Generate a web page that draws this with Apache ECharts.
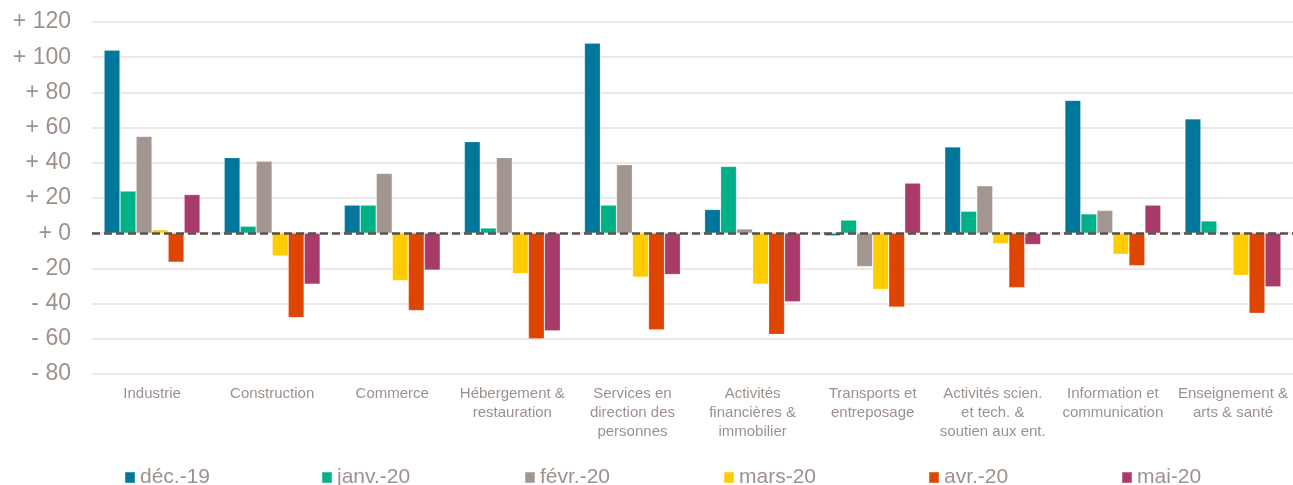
<!DOCTYPE html>
<html>
<head>
<meta charset="utf-8">
<script src="https://cdn.jsdelivr.net/npm/echarts@6/dist/echarts.min.js"></script>
<style>
html,body{margin:0;padding:0;background:#fff;}
#c{width:1293px;height:485px;}
</style>
</head>
<body>
<div id="c"></div>
<script>
const categories = ["Industrie", "Construction", "Commerce", "Hébergement &\nrestauration", "Services en\ndirection des\npersonnes", "Activités\nfinancières &\nimmobilier", "Transports et\nentreposage", "Activités scien.\net tech. &\nsoutien aux ent.", "Information et\ncommunication", "Enseignement &\narts & santé"];
const seriesNames = ["déc.-19", "janv.-20", "févr.-20", "mars-20", "avr.-20", "mai-20"];
const dec19 = [104, 43, 16, 52, 108, 13.5, -1.5, 49, 75.5, 65];
const janv20 = [24, 4, 16, 3, 16, 38, 7.5, 12.5, 11, 7];
const fevr20 = [55, 41, 34, 43, 39, 2.5, -19, 27, 13, null];
const mars20 = [2, -13, -27, -23, -25, -29, -32, -6, -12, -24];
const avr20 = [-16.5, -48, -44, -60, -55, -57.5, -42, -31, -18.5, -45.5];
const mai20 = [22, -29, -21, -55.5, -23.5, -39, 28.5, -6.5, 16, -30.5];
const yTicks = {min: -80, max: 120, interval: 20};

const colors = ["#00779A", "#00B187", "#A39590", "#FFCC00", "#DE4500", "#A93B6A"];
const allData = [dec19, janv20, fevr20, mars20, avr20, mai20];
const textColor = "#9E918C";

const series = allData.map((d, i) => {
  const s = {
    name: seriesNames[i],
    type: "bar",
    data: d,
    barGap: "0%",
    barCategoryGap: "20%",
    itemStyle: {color: colors[i], borderColor: "rgba(255,255,255,0.25)", borderWidth: 0.8},
    emphasis: {disabled: true},
    animation: false
  };
  if (i === allData.length - 1) {
    s.markLine = {
      silent: true,
      symbol: "none",
      z: 10,
      label: {show: false},
      lineStyle: {color: "#5A4F4C", type: [8, 4], width: 2.5},
      data: [{yAxis: 0}],
      animation: false
    };
  }
  return s;
});

const legendLefts = [124, 321, 524, 723, 928, 1121];
const legends = seriesNames.map((n, i) => ({
  data: [n],
  left: legendLefts[i],
  top: 467,
  padding: 0,
  icon: "rect",
  itemWidth: 10,
  itemHeight: 11,
  selectedMode: false,
  textStyle: {color: textColor, fontSize: 21, fontFamily: "Liberation Sans", padding: [0, 0, 0, 0]}
}));

const chart = echarts.init(document.getElementById("c"), null, {renderer: "canvas"});
chart.setOption({
  animation: false,
  color: colors,
  grid: {left: 92, top: 22, width: 1202, height: 352, containLabel: false},
  legend: legends,
  xAxis: {
    type: "category",
    data: categories,
    axisLine: {show: false, onZero: false},
    axisTick: {show: false},
    axisLabel: {
      interval: 0,
      color: textColor,
      fontSize: 15,
      lineHeight: 19,
      margin: 10,
      fontFamily: "Liberation Sans"
    },
    splitLine: {show: false}
  },
  yAxis: {
    type: "value",
    min: yTicks.min,
    max: yTicks.max,
    interval: yTicks.interval,
    axisLine: {show: false},
    axisTick: {show: false},
    axisLabel: {
      color: textColor,
      fontSize: 23,
      margin: 21,
      fontFamily: "Liberation Sans",
      formatter: v => (v >= 0 ? "+ " + v : "- " + Math.abs(v))
    },
    splitLine: {lineStyle: {color: "#E8E2E2", width: 1.5}}
  },
  series: series
});
</script>
</body>
</html>
